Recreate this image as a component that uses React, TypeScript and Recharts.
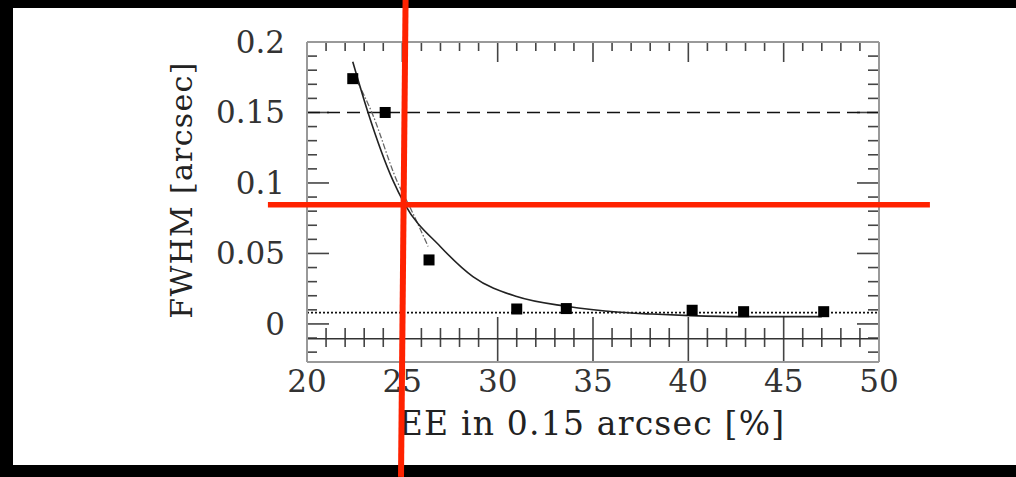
import { ComposedChart, Line, Scatter, XAxis, YAxis, ReferenceLine } from "recharts"

// measured points (squares)
const pointX = [22.4, 24.1, 26.4, 31.0, 33.6, 40.2, 42.9, 47.1]
const pointY = [0.174, 0.15, 0.0454, 0.0106, 0.0109, 0.0097, 0.0087, 0.0087]

// solid fit curve
const fitX = [22.4, 23.2, 24.5, 25.1, 27.0, 28.7, 31.0, 33.6, 36.4, 38.1, 40.1, 43.1, 47.0]
const fitY = [0.186, 0.15, 0.102, 0.0856, 0.0548, 0.0336, 0.0194, 0.0125, 0.0083, 0.007, 0.0059, 0.0052, 0.0052]

// dash-dot line through the first points
const steepX = [22.6, 23.4, 24.7, 25.5, 26.35]
const steepY = [0.173, 0.15, 0.102, 0.08, 0.055]

const dashedLevel = 0.15
const dottedLevel = 0.008
const innerAxisLevel = -0.0105

// red crosshair
const crossX = [25.17, 24.93]
const crossY = 0.0845
const crossSpanY = [0.2298, -0.1085]
const crossSpanX = [17.95, 52.67]

const xDomain = [20, 50]
const yDomain = [-0.027, 0.2]
const xTicks = [20, 21, 22, 23, 24, 25, 26, 27, 28, 29, 30, 31, 32, 33, 34, 35, 36, 37, 38, 39, 40, 41, 42, 43, 44, 45, 46, 47, 48, 49, 50]
const yTicks = [-0.02, -0.01, 0, 0.01, 0.02, 0.03, 0.04, 0.05, 0.06, 0.07, 0.08, 0.09, 0.1, 0.11, 0.12, 0.13, 0.14, 0.15, 0.16, 0.17, 0.18, 0.19, 0.2]
const xLabelTicks = [20, 25, 30, 35, 40, 45, 50]
const yLabelTicks = [0, 0.05, 0.1, 0.15, 0.2]

const points = pointX.map((x, i) => ({ x, y: pointY[i] }))
const fit = fitX.map((x, i) => ({ x, y: fitY[i] }))
const steep = steepX.map((x, i) => ({ x, y: steepY[i] }))

const FONT = "'DejaVu Serif', serif"
const TICK = "#444"
const FRAME = "#999"

// plot box size in px, used to turn tick lengths into data units
const PLOT_W = 572
const PLOT_H = 320
const PX = (xDomain[1] - xDomain[0]) / PLOT_W
const PY = (yDomain[1] - yDomain[0]) / PLOT_H

const isMajorX = (v: number) => v % 5 === 0
const isMajorY = (v: number) => Math.round(v * 100) % 5 === 0 && v >= 0

function BottomTick({ x, y, payload }: any) {
  return (
    <text x={x} y={y + 30} textAnchor="middle" fontFamily={FONT} fontSize={31} fill="#333">
      {payload.value}
    </text>
  )
}

function LeftTick({ x, y, payload }: any) {
  return (
    <text x={x - 22} y={y + 11} textAnchor="end" fontFamily={FONT} fontSize={31} fill="#333">
      {payload.value}
    </text>
  )
}

function Square({ cx, cy }: any) {
  return <rect x={cx - 5.5} y={cy - 5.5} width={11} height={11} fill="#000" />
}

function tickSeg(key: string, a: { x: number; y: number }, b: { x: number; y: number }) {
  return (
    <ReferenceLine key={key} xAxisId="b" yAxisId="l" segment={[a, b]} stroke={TICK} strokeWidth={1.6} ifOverflow="visible" />
  )
}

export default function App() {
  const top = yDomain[1]
  const bottom = yDomain[0]
  return (
    <div style={{ position: "absolute", left: 0, top: 0, width: 1016, height: 477, background: "#000" }}>
      <div style={{ position: "absolute", left: 13, top: 8, width: 1003, height: 457, background: "#fff" }} />
      <div style={{ position: "absolute", left: 0, top: 0 }}>
        <ComposedChart width={1016} height={477} margin={{ top: 32, right: 127, bottom: 55, left: 247 }}>
          <XAxis
            xAxisId="b"
            dataKey="x"
            type="number"
            orientation="bottom"
            domain={xDomain}
            ticks={xLabelTicks}
            interval={0}
            height={60}
            tickSize={0}
            tickMargin={0}
            tickLine={false}
            axisLine={{ stroke: FRAME, strokeWidth: 2 }}
            tick={<BottomTick />}
            label={{
              content: ({ viewBox }: any) => (
                <text
                  x={viewBox.x + viewBox.width / 2 - 1}
                  y={viewBox.y + 73}
                  textAnchor="middle"
                  fontFamily={FONT}
                  fontSize={33}
                  letterSpacing={1.2}
                  fill="#222"
                >
                  EE in 0.15 arcsec [%]
                </text>
              ),
            }}
          />
          <XAxis
            xAxisId="t"
            dataKey="x"
            type="number"
            orientation="top"
            domain={xDomain}
            height={10}
            tick={false}
            tickLine={false}
            axisLine={{ stroke: FRAME, strokeWidth: 2 }}
          />
          <YAxis
            yAxisId="l"
            dataKey="y"
            type="number"
            orientation="left"
            domain={yDomain}
            ticks={yLabelTicks}
            interval={0}
            width={60}
            tickSize={0}
            tickMargin={0}
            tickLine={false}
            axisLine={{ stroke: FRAME, strokeWidth: 2 }}
            tick={<LeftTick />}
            label={{
              content: ({ viewBox }: any) => {
                const cx = viewBox.x - 55
                const cy = viewBox.y + viewBox.height / 2 - 12
                return (
                  <text
                    x={cx}
                    y={cy}
                    transform={`rotate(-90 ${cx} ${cy})`}
                    textAnchor="middle"
                    fontFamily={FONT}
                    fontSize={30}
                    letterSpacing={1.3}
                    fill="#222"
                  >
                    FWHM [arcsec]
                  </text>
                )
              },
            }}
          />
          <YAxis
            yAxisId="r"
            dataKey="y"
            type="number"
            orientation="right"
            domain={yDomain}
            width={10}
            tick={false}
            tickLine={false}
            axisLine={{ stroke: FRAME, strokeWidth: 2 }}
          />

          {/* inward ticks on the frame */}
          {xTicks.map((v) =>
            tickSeg(`t${v}`, { x: v, y: top }, { x: v, y: top - (isMajorX(v) ? 20 : 9) * PY })
          )}
          {xTicks.map((v) =>
            isMajorX(v)
              ? tickSeg(`b${v}`, { x: v, y: bottom }, { x: v, y: bottom + 45 * PY })
              : tickSeg(`b${v}`, { x: v, y: bottom + 15 * PY }, { x: v, y: bottom + 34 * PY })
          )}
          {yTicks.map((v) =>
            tickSeg(`l${v}`, { x: xDomain[0], y: v }, { x: xDomain[0] + (isMajorY(v) ? 22 : 10) * PX, y: v })
          )}
          {yTicks.map((v) =>
            tickSeg(`r${v}`, { x: xDomain[1], y: v }, { x: xDomain[1] - (isMajorY(v) ? 22 : 11) * PX, y: v })
          )}

          <ReferenceLine xAxisId="b" yAxisId="l" y={innerAxisLevel} stroke="#333" strokeWidth={1.6} />
          <ReferenceLine xAxisId="b" yAxisId="l" y={dashedLevel} stroke="#111" strokeWidth={1.6} strokeDasharray="13 7" />
          <ReferenceLine xAxisId="b" yAxisId="l" y={dottedLevel} stroke="#111" strokeWidth={1.6} strokeDasharray="2 2" />

          <Line
            data={steep}
            xAxisId="b"
            yAxisId="l"
            dataKey="y"
            type="monotone"
            dot={false}
            stroke="#666"
            strokeWidth={1.3}
            strokeDasharray="6 2 1.5 2"
            isAnimationActive={false}
          />
          <Line
            data={fit}
            xAxisId="b"
            yAxisId="l"
            dataKey="y"
            type="monotone"
            dot={false}
            stroke="#222"
            strokeWidth={1.6}
            isAnimationActive={false}
          />
          <Scatter data={points} xAxisId="b" yAxisId="l" dataKey="y" shape={<Square />} isAnimationActive={false} />

          <ReferenceLine
            xAxisId="b"
            yAxisId="l"
            segment={[{ x: crossX[0], y: crossSpanY[0] }, { x: crossX[1], y: crossSpanY[1] }]}
            ifOverflow="visible"
            stroke="#ff2200"
            strokeWidth={6}
            zIndex={3000}
          />
          <ReferenceLine
            xAxisId="b"
            yAxisId="l"
            segment={[{ x: crossSpanX[0], y: crossY }, { x: crossSpanX[1], y: crossY }]}
            ifOverflow="visible"
            stroke="#ff2200"
            strokeWidth={5.5}
            zIndex={3000}
          />
        </ComposedChart>
      </div>
    </div>
  )
}
